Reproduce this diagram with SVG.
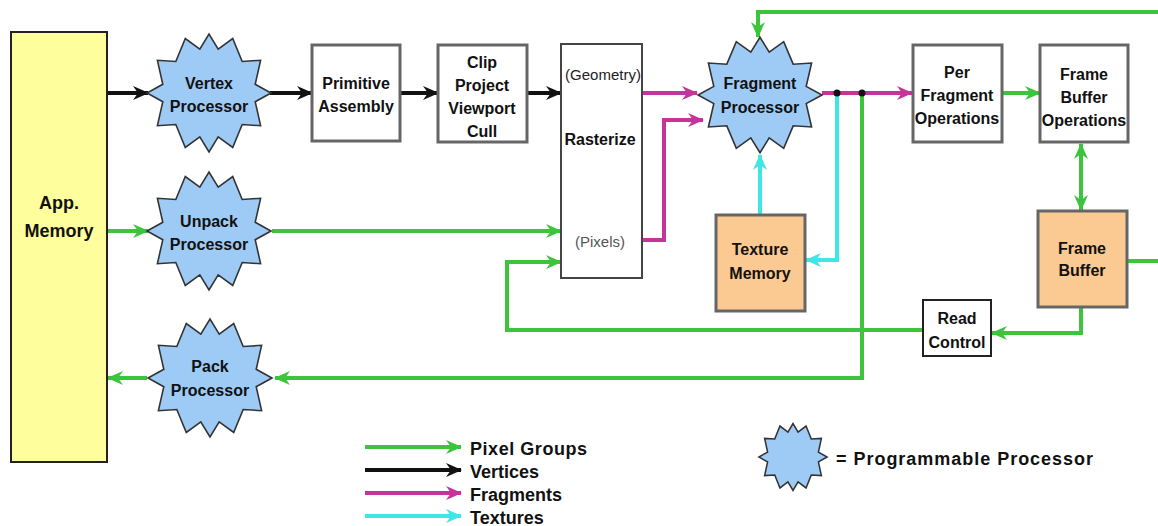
<svg xmlns="http://www.w3.org/2000/svg" xmlns:xlink="http://www.w3.org/1999/xlink" width="1158" height="526" viewBox="0 0 1158 526">
<style>
.t{font-family:"Liberation Sans",Arial,sans-serif;font-weight:bold;font-size:16px;fill:#111;text-anchor:middle}
.big{font-size:18px}
.leg{font-family:"Liberation Sans",Arial,sans-serif;font-weight:bold;font-size:18px;fill:#111}
.n{font-family:"Liberation Sans",Arial,sans-serif;font-size:15px;fill:#222;text-anchor:middle}
.box{fill:#fff;stroke:#666;stroke-width:3}
.peach{fill:#fbc992;stroke:#666;stroke-width:3}
.star{fill:#9dcbf6;stroke:#333;stroke-width:1.6}
.c{fill:none;stroke-width:4;stroke-linejoin:miter}
.g{stroke:#3dc43d}
.k{stroke:#111}
.m{stroke:#c63399}
.cy{stroke:#3ee6e6}
</style>
<defs>
<path id="starShape" d="M62,0 L46.2,9.2 L51.6,34.4 L33.2,33.2 L23.7,57.3 L9.2,46.2 L0,62 L-9.2,46.2 L-23.7,57.3 L-33.2,33.2 L-51.6,34.4 L-46.2,9.2 L-62,0 L-46.2,-9.2 L-51.6,-34.4 L-33.2,-33.2 L-23.7,-57.3 L-9.2,-46.2 L0,-62 L9.2,-46.2 L23.7,-57.3 L33.2,-33.2 L51.6,-34.4 L46.2,-9.2 Z"/>
<marker id="aG" markerUnits="userSpaceOnUse" viewBox="0 0 16 14" markerWidth="16" markerHeight="14" refX="15" refY="7" orient="auto-start-reverse"><path d="M0,0 L16,7 L0,14 L5,7 Z" fill="#3dc43d"/></marker>
<marker id="aK" markerUnits="userSpaceOnUse" viewBox="0 0 16 14" markerWidth="16" markerHeight="14" refX="15" refY="7" orient="auto"><path d="M0,0 L16,7 L0,14 L5,7 Z" fill="#111"/></marker>
<marker id="aM" markerUnits="userSpaceOnUse" viewBox="0 0 16 14" markerWidth="16" markerHeight="14" refX="15" refY="7" orient="auto"><path d="M0,0 L16,7 L0,14 L5,7 Z" fill="#c63399"/></marker>
<marker id="aC" markerUnits="userSpaceOnUse" viewBox="0 0 16 14" markerWidth="16" markerHeight="14" refX="15" refY="7" orient="auto"><path d="M0,0 L16,7 L0,14 L5,7 Z" fill="#3ee6e6"/></marker>
</defs>
<rect width="1158" height="526" fill="#fff"/>

<g id="connectors">
<path class="c k" d="M107,93 H148" marker-end="url(#aK)"/>
<path class="c k" d="M270,93 H312" marker-end="url(#aK)"/>
<path class="c k" d="M400,93 H438" marker-end="url(#aK)"/>
<path class="c k" d="M527,93 H561" marker-end="url(#aK)"/>
<path class="c m" d="M642,93 H697" marker-end="url(#aM)"/>
<path class="c m" d="M642,240 H664 V120 H703" marker-end="url(#aM)"/>
<path class="c m" d="M822,93 H912" marker-end="url(#aM)"/>
<path class="c cy" d="M760,215 V155" marker-end="url(#aC)"/>
<path class="c cy" d="M837,93 V260 H806" marker-end="url(#aC)"/>
<path class="c g" d="M862,93 V378 H275" marker-end="url(#aG)"/>
<path class="c g" d="M147,378 H108" marker-end="url(#aG)"/>
<path class="c g" d="M107,231 H148" marker-end="url(#aG)"/>
<path class="c g" d="M272,231 H561" marker-end="url(#aG)"/>
<path class="c g" d="M923,330 H507 V262 H561" marker-end="url(#aG)"/>
<path class="c g" d="M1081,307 V333 H992" marker-end="url(#aG)"/>
<path class="c g" d="M1002,93 H1040" marker-end="url(#aG)"/>
<path class="c g" d="M1081,144 V210" marker-start="url(#aG)" marker-end="url(#aG)"/>
<path class="c g" d="M1127,261 H1158"/>
<path class="c g" d="M1158,12 H758 V37" marker-end="url(#aG)"/>
<circle cx="837" cy="93" r="3.5" fill="#111"/>
<circle cx="862" cy="93" r="3.5" fill="#111"/>
</g>

<g id="app-memory">
<rect x="11" y="32" width="96" height="430" fill="#fefe9c" stroke="#222" stroke-width="2"/>
<text class="t big" x="59" y="209">App.</text>
<text class="t big" x="59" y="237">Memory</text>
</g>

<g id="vertex-processor">
<use xlink:href="#starShape" class="star" transform="translate(209,93) scale(1,0.95)"/>
<text class="t" x="209" y="89">Vertex</text>
<text class="t" x="209" y="112">Processor</text>
</g>

<g id="unpack-processor">
<use xlink:href="#starShape" class="star" transform="translate(209,231) scale(1,0.95)"/>
<text class="t" x="209" y="227">Unpack</text>
<text class="t" x="209" y="250">Processor</text>
</g>

<g id="pack-processor">
<use xlink:href="#starShape" class="star" transform="translate(210,378) scale(1,0.95)"/>
<text class="t" x="210" y="372">Pack</text>
<text class="t" x="210" y="396">Processor</text>
</g>

<g id="primitive-assembly">
<rect class="box" x="312" y="45" width="88" height="96"/>
<text class="t" x="356" y="89">Primitive</text>
<text class="t" x="356" y="112">Assembly</text>
</g>

<g id="clip-project">
<rect class="box" x="438" y="45" width="89" height="97"/>
<text class="t" x="482" y="68">Clip</text>
<text class="t" x="482" y="91">Project</text>
<text class="t" x="482" y="114">Viewport</text>
<text class="t" x="482" y="137">Cull</text>
</g>

<g id="rasterize">
<rect x="561" y="44" width="81" height="234" fill="#fff" stroke="#444" stroke-width="2"/>
<text class="n" x="603" y="80">(Geometry)</text>
<text class="t" x="600" y="145">Rasterize</text>
<text class="n" x="600" y="247" style="fill:#555">(Pixels)</text>
</g>

<g id="fragment-processor">
<use xlink:href="#starShape" class="star" transform="translate(760,95) scale(1,0.93)"/>
<text class="t" x="760" y="89">Fragment</text>
<text class="t" x="760" y="113">Processor</text>
</g>

<g id="texture-memory">
<rect class="peach" x="716" y="215" width="89" height="96"/>
<text class="t" x="760" y="255">Texture</text>
<text class="t" x="760" y="279">Memory</text>
</g>

<g id="per-fragment-operations">
<rect class="box" x="913" y="45" width="89" height="97"/>
<text class="t" x="957" y="78">Per</text>
<text class="t" x="957" y="101">Fragment</text>
<text class="t" x="957" y="124">Operations</text>
</g>

<g id="frame-buffer-operations">
<rect class="box" x="1040" y="45" width="88" height="97"/>
<text class="t" x="1084" y="80">Frame</text>
<text class="t" x="1084" y="103">Buffer</text>
<text class="t" x="1084" y="126">Operations</text>
</g>

<g id="frame-buffer">
<rect class="peach" x="1038" y="211" width="89" height="96"/>
<text class="t" x="1082" y="254">Frame</text>
<text class="t" x="1082" y="276">Buffer</text>
</g>

<g id="read-control">
<rect x="923" y="300" width="68" height="56" fill="#fff" stroke="#222" stroke-width="2"/>
<text class="t" x="957" y="324">Read</text>
<text class="t" x="957" y="348">Control</text>
</g>

<g id="legend">
<path class="c g" d="M365,447 H461" marker-end="url(#aG)"/>
<path class="c k" d="M365,470 H461" marker-end="url(#aK)"/>
<path class="c m" d="M365,493 H461" marker-end="url(#aM)"/>
<path class="c cy" d="M365,516 H461" marker-end="url(#aC)"/>
<text class="leg" x="470" y="455" textLength="117">Pixel Groups</text>
<text class="leg" x="470" y="478">Vertices</text>
<text class="leg" x="470" y="501">Fragments</text>
<text class="leg" x="470" y="524">Textures</text>
<use xlink:href="#starShape" class="star" transform="translate(793,457) scale(0.55,0.54)" style="stroke-width:2.8"/>
<text class="leg" x="836" y="465" textLength="257">= Programmable Processor</text>
</g>
</svg>
